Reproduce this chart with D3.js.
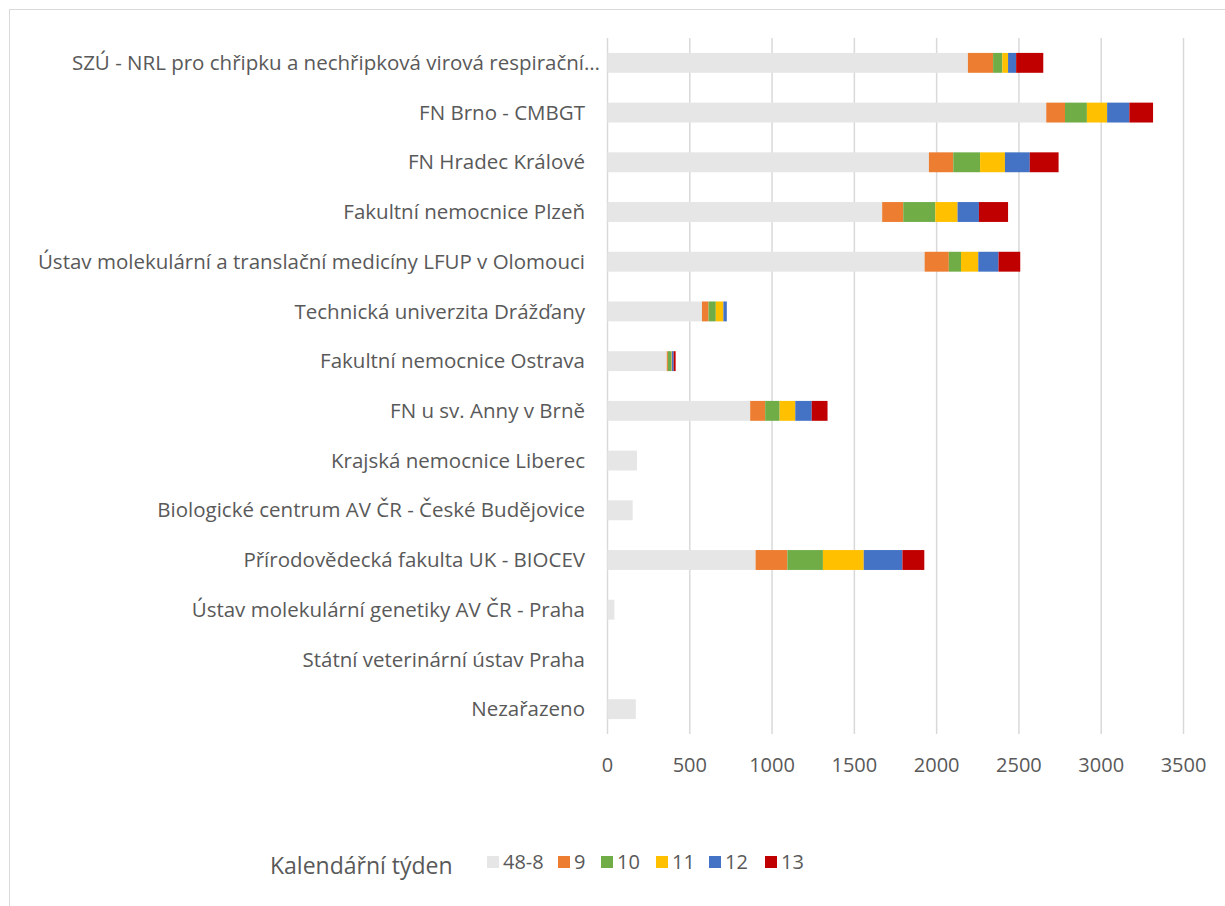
<!DOCTYPE html>
<html>
<head>
<meta charset="utf-8">
<script src="https://cdn.jsdelivr.net/npm/d3@7"></script>
<style>
  body { margin: 0; background: #fff; }
  text { font-family: "Open Sans", "Noto Sans", sans-serif; fill: #595959; }
</style>
</head>
<body>
<div id="myViz"></div>
<script>
// categories (top to bottom)
var categories = [
  "SZÚ - NRL pro chřipku a nechřipková virová respirační…",
  "FN Brno - CMBGT",
  "FN Hradec Králové",
  "Fakultní nemocnice Plzeň",
  "Ústav molekulární a translační medicíny LFUP v Olomouci",
  "Technická univerzita Drážďany",
  "Fakultní nemocnice Ostrava",
  "FN u sv. Anny v Brně",
  "Krajská nemocnice Liberec",
  "Biologické centrum AV ČR - České Budějovice",
  "Přírodovědecká fakulta UK - BIOCEV",
  "Ústav molekulární genetiky AV ČR - Praha",
  "Státní veterinární ústav Praha",
  "Nezařazeno"
];

// series (calendar weeks)
var weeks = ["48-8", "9", "10", "11", "12", "13"];
var colors = ["#e6e6e6", "#ed7d31", "#70ad47", "#ffc000", "#4472c4", "#c00000"];

// values per week, same order as categories
var w48_8 = [2190, 2666, 1953, 1669, 1927, 574, 360, 867, 179, 153, 900, 42, 0, 172];
var w9    = [153, 114, 148, 128, 147, 40, 7, 91, 0, 0, 193, 0, 0, 0];
var w10   = [56, 133, 163, 195, 74, 44, 19, 88, 0, 0, 216, 0, 0, 0];
var w11   = [35, 123, 151, 135, 105, 46, 4, 95, 0, 0, 248, 0, 0, 0];
var w12   = [49, 135, 151, 130, 123, 21, 12, 100, 0, 0, 235, 0, 0, 0];
var w13   = [165, 144, 175, 177, 132, 0, 12, 96, 0, 0, 133, 0, 0, 0];

var xTicks = [0, 500, 1000, 1500, 2000, 2500, 3000, 3500];

var seriesValues = [w48_8, w9, w10, w11, w12, w13];

var data = categories.map(function(c, i) {
  var row = {name: c};
  weeks.forEach(function(w, j) { row[w] = seriesValues[j][i]; });
  return row;
});

var W = 1225, H = 906;
var margin = {top: 38, left: 607.5, right: 41.5, bottom: 172};

var svg = d3.select("#myViz").append("svg")
  .attr("width", W)
  .attr("height", H);

// chart border (only top/left visible in the frame)
svg.append("rect")
  .attr("x", 9.5).attr("y", 9.5)
  .attr("width", W + 20).attr("height", H + 20)
  .attr("fill", "none")
  .attr("stroke", "#d9d9d9");

var x = d3.scaleLinear()
  .domain([0, 3500])
  .range([margin.left, W - margin.right]);

var y = d3.scaleBand()
  .domain(categories)
  .range([margin.top, H - margin.bottom])
  .paddingInner(0.6)
  .paddingOuter(0.3);

// gridlines
svg.append("g")
  .selectAll("line")
  .data(xTicks)
  .enter()
  .append("line")
    .attr("x1", d => x(d)).attr("x2", d => x(d))
    .attr("y1", margin.top).attr("y2", H - margin.bottom)
    .attr("stroke", "#d9d9d9")
    .attr("stroke-width", 1.5);

// stacked bars
var stack = d3.stack().keys(weeks);
var layers = stack(data);

svg.append("g")
  .selectAll("g")
  .data(layers)
  .enter()
  .append("g")
    .attr("fill", (d, i) => colors[i])
  .selectAll("rect")
  .data(d => d)
  .enter()
  .append("rect")
    .attr("x", d => x(d[0]))
    .attr("y", d => y(d.data.name))
    .attr("width", d => x(d[1]) - x(d[0]))
    .attr("height", y.bandwidth());

// category labels (the truncated first one runs a bit further right)
svg.append("g")
  .selectAll("text")
  .data(categories)
  .enter()
  .append("text")
    .attr("x", (d, i) => i == 0 ? 600 : 585)
    .attr("y", d => y(d) + y.bandwidth() / 2)
    .attr("dy", "0.35em")
    .attr("text-anchor", "end")
    .style("font-size", "20.5px")
    .text(d => d);

// x tick labels
svg.append("g")
  .selectAll("text")
  .data(xTicks)
  .enter()
  .append("text")
    .attr("x", d => x(d))
    .attr("y", 765)
    .attr("dy", "0.35em")
    .attr("text-anchor", "middle")
    .style("font-size", "20px")
    .text(d => d);

// legend
var legend = svg.append("g");
legend.append("text")
  .attr("x", 270).attr("y", 866)
  .attr("dy", "0.35em")
  .style("font-size", "23px")
  .text("Kalendářní týden");

var legendX = [487, 558, 601, 656, 709, 765];
weeks.forEach(function(w, i) {
  legend.append("rect")
    .attr("x", legendX[i]).attr("y", 856)
    .attr("width", 12).attr("height", 12)
    .attr("fill", colors[i]);
  legend.append("text")
    .attr("x", legendX[i] + 16).attr("y", 862)
    .attr("dy", "0.35em")
    .style("font-size", "20px")
    .text(w);
});
</script>
</body>
</html>
